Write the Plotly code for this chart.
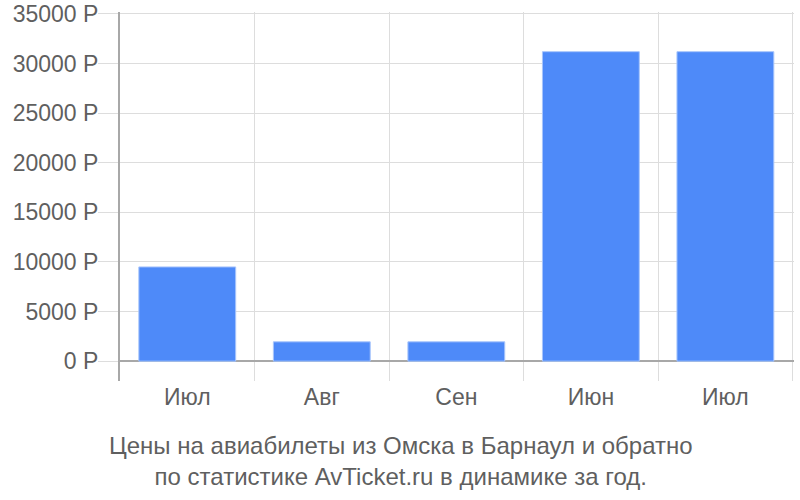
import plotly.graph_objects as go

categories = ["Июл", "Авг", "Сен", "Июн", "Июл"]
prices = [9500, 1950, 1950, 31200, 31200]
y_ticks = [0, 5000, 10000, 15000, 20000, 25000, 30000, 35000]
y_tick_labels = ["0 Р", "5000 Р", "10000 Р", "15000 Р", "20000 Р", "25000 Р", "30000 Р", "35000 Р"]
title_lines = ["Цены на авиабилеты из Омска в Барнаул и обратно",
               "по статистике AvTicket.ru в динамике за год."]

positions = list(range(len(categories)))

fig = go.Figure()
fig.add_trace(go.Bar(
    x=positions, y=prices,
    marker=dict(color="#4e8af9", line=dict(color="#a8c5fb", width=1)),
    width=0.72,
    hoverinfo="skip",
))

font = "Liberation Sans, Arial, sans-serif"
fs = 23
fig.update_layout(
    width=800, height=500,
    margin=dict(l=120, r=6, t=12, b=119),
    paper_bgcolor="white", plot_bgcolor="white",
    showlegend=False,
    font=dict(family=font, size=fs, color="#5f5f5f"),
    xaxis=dict(
        range=[-0.5, len(categories) - 0.5 + 0.01],
        tickvals=positions, ticktext=categories,
        showgrid=False, ticks="", showline=False, zeroline=False,
        minor=dict(tick0=-0.5, dtick=1, showgrid=True, gridcolor="#dddddd", gridwidth=1),
        tickfont=dict(size=fs, color="#5f5f5f"),
        automargin=False,
    ),
    yaxis=dict(
        range=[-2000, 35200],
        tickvals=y_ticks, ticktext=y_tick_labels,
        showgrid=True, gridcolor="#dddddd", gridwidth=1,
        ticks="outside", ticklen=20, tickcolor="#dddddd",
        ticklabelstandoff=-5,
        showline=True, linecolor="#a8a8a8", linewidth=2,
        zeroline=True, zerolinecolor="#a8a8a8", zerolinewidth=2,
        tickfont=dict(size=fs, color="#5f5f5f"),
        automargin=False,
    ),
    annotations=[dict(
        text="<br>".join(title_lines), xref="paper", yref="paper",
        x=0.5, y=0, xanchor="center", yanchor="top",
        xshift=-56, yshift=-49, showarrow=False,
        font=dict(family=font, size=24, color="#5f5f5f"),
    )],
)

fig.write_html("out.html", config={"displayModeBar": False},
               post_script="document.body.style.margin='0';")
